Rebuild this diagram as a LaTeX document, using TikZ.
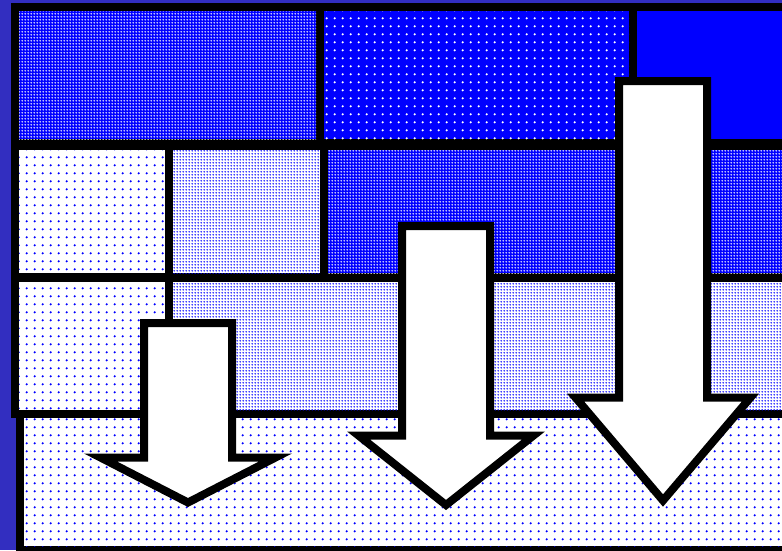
\documentclass[tikz,border=0pt]{standalone}
\usetikzlibrary{patterns}

% dot textures: a loose grid and a tight grid
\pgfdeclarepatternformonly{loosedots}{\pgfpointorigin}{\pgfpoint{7.7pt}{7.7pt}}{\pgfpoint{7.7pt}{7.7pt}}%
  {\pgfpathcircle{\pgfpoint{3.85pt}{3.85pt}}{1.25pt}\pgfusepath{fill}}
\pgfdeclarepatternformonly{tightdots}{\pgfpointorigin}{\pgfpoint{3.1pt}{3.1pt}}{\pgfpoint{3.1pt}{3.1pt}}%
  {\pgfpathcircle{\pgfpoint{1.55pt}{1.55pt}}{1.05pt}\pgfusepath{fill}}

\definecolor{framebg}{RGB}{50,46,192}
\definecolor{pureblue}{RGB}{0,0,255}

\tikzset{
  frame/.style={fill=black},
  bluewhitefine/.style={fill=pureblue, postaction={pattern=tightdots, pattern color=white}},
  bluewhitesparse/.style={fill=pureblue, postaction={pattern=loosedots, pattern color=white}},
  solidblue/.style={fill=pureblue},
  whitebluesparse/.style={fill=white, postaction={pattern=loosedots, pattern color=pureblue}},
  whitebluefine/.style={fill=white, postaction={pattern=tightdots, pattern color=pureblue}},
  downarrow/.style={fill=white, draw=black, line width=8pt, line join=miter, miter limit=10},
}

% block arrow pointing down: centre x, top of shaft, shoulder y, tip y
\newcommand{\blockarrow}[4]{%
  \draw[downarrow] (#1-44,#2) -- (#1+44,#2) -- (#1+44,#3) -- (#1+87.5,#3)
    -- (#1,#4) -- (#1-87.5,#3) -- (#1-44,#3) -- cycle;}

\begin{document}
\begin{tikzpicture}[x=1pt, y=-1pt]
  \useasboundingbox (0,0) rectangle (782,550);
  \clip (0,0) rectangle (782,550);

  % backdrop
  \fill[framebg] (0,0) rectangle (782,550);

  % black frames behind the cells
  \fill[frame] (11,3) rectangle (790,418);
  \fill[frame] (16,410) rectangle (790,558);

  % top row
  \fill[bluewhitefine]   (19,11)  rectangle (316,139);
  \fill[bluewhitesparse] (324,11) rectangle (629,139);
  \fill[solidblue]       (637,11) rectangle (790,139);

  % second row
  \fill[whitebluesparse] (19,150)  rectangle (165,273);
  \fill[whitebluefine]   (173,150) rectangle (320,273);
  \fill[bluewhitefine]   (328,150) rectangle (790,273);

  % third row
  \fill[whitebluesparse] (19,282)  rectangle (165,410);
  \fill[whitebluefine]   (173,282) rectangle (790,410);

  % bottom band
  \fill[whitebluesparse] (24,418) rectangle (790,546);

  % three arrows of rising height
  \blockarrow{188}{323}{457.5}{502.5}
  \blockarrow{446}{226}{435.5}{505}
  \blockarrow{663}{81}{397.5}{500.5}
\end{tikzpicture}
\end{document}
